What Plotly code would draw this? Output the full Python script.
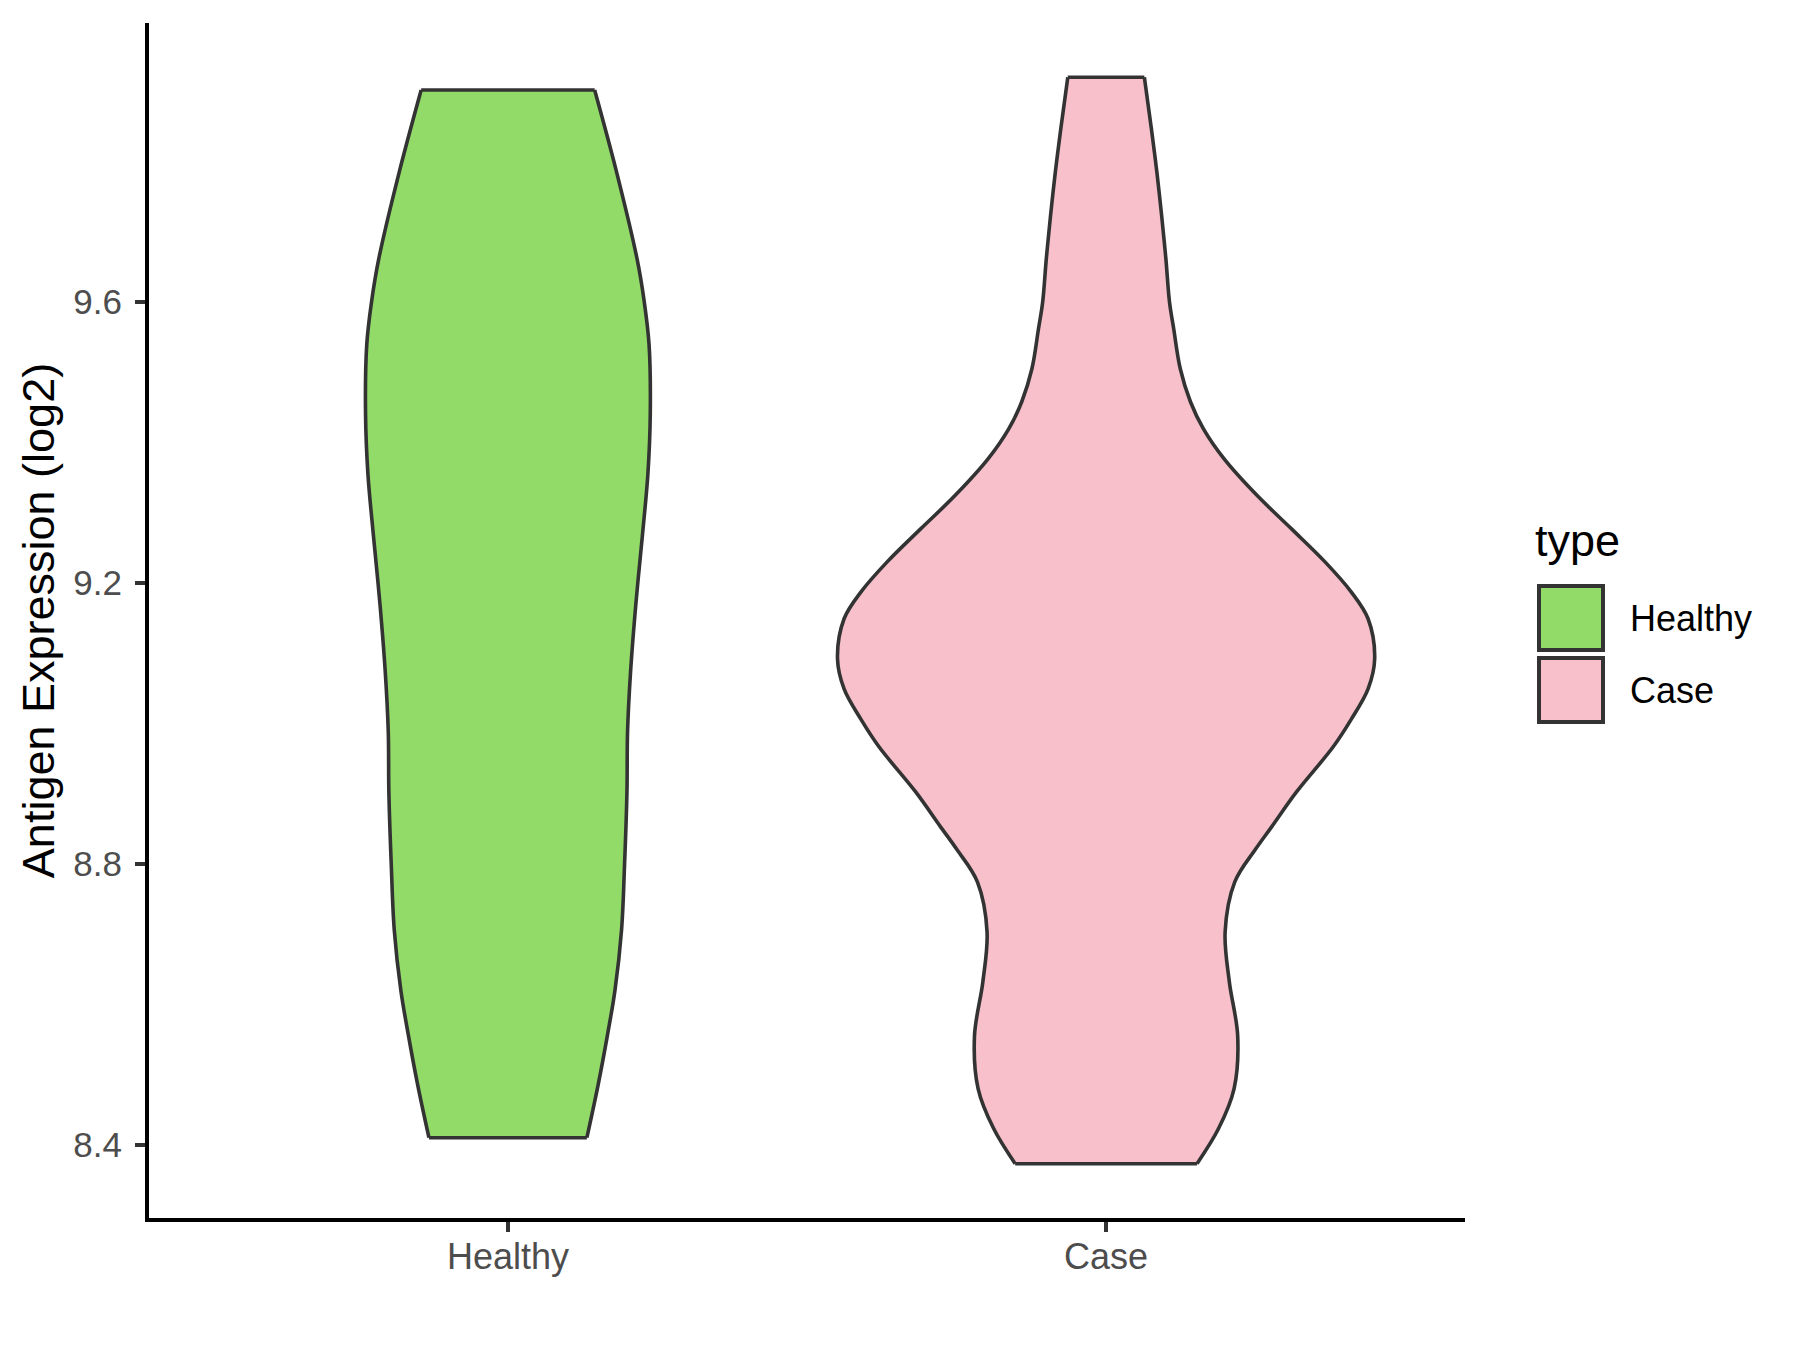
import plotly.graph_objects as go

# ---- data (violin density outlines: value, half-width in category units)
categories = ["Healthy", "Case"]
fill_colors = ["#93DB69", "#F7C0CB"]

healthy_y = [9.902, 9.784, 9.661, 9.600, 9.539, 9.441, 9.355, 9.269, 9.171, 9.073,
             8.988, 8.902, 8.799, 8.706, 8.620, 8.559, 8.486, 8.410]
healthy_hw = [0.145, 0.182, 0.216, 0.228, 0.236, 0.238, 0.234, 0.225, 0.214, 0.205,
              0.200, 0.199, 0.195, 0.190, 0.179, 0.167, 0.151, 0.132]

case_y = [9.920, 9.845, 9.784, 9.722, 9.661, 9.600, 9.562, 9.505, 9.458, 9.419,
          9.377, 9.324, 9.277, 9.230, 9.187, 9.149, 9.092, 9.049, 9.006, 8.967,
          8.902, 8.853, 8.821, 8.774, 8.703, 8.632, 8.555, 8.480, 8.423, 8.373]
case_hw = [0.064, 0.076, 0.085, 0.093, 0.100, 0.106, 0.113, 0.124, 0.141, 0.163,
           0.197, 0.253, 0.310, 0.366, 0.410, 0.438, 0.449, 0.438, 0.410, 0.380,
           0.318, 0.277, 0.250, 0.215, 0.199, 0.206, 0.220, 0.214, 0.188, 0.152]

y_ticks = [8.4, 8.8, 9.2, 9.6]
y_title = "Antigen Expression (log2)"
legend_title = "type"

series = [(healthy_y, healthy_hw), (case_y, case_hw)]

FONT = "Liberation Sans, Arial, sans-serif"
OUTLINE = "#333333"
LW = 3.6
fig = go.Figure()

for i, (ys, hws) in enumerate(series):
    c = i + 1
    left = [c - w for w in hws]
    right = [c + w for w in hws]
    fig.add_trace(go.Scatter(
        x=left, y=ys, mode="lines",
        line=dict(color=OUTLINE, width=LW, shape="spline", smoothing=1.0),
        showlegend=False, hoverinfo="skip"))
    fig.add_trace(go.Scatter(
        x=right, y=ys, mode="lines", fill="tonextx", fillcolor=fill_colors[i],
        line=dict(color=OUTLINE, width=LW, shape="spline", smoothing=1.0),
        name=categories[i], showlegend=False, hoverinfo="skip"))
    # flat top and bottom edges of the violin
    fig.add_trace(go.Scatter(
        x=[left[0], right[0], None, left[-1], right[-1]],
        y=[ys[0], ys[0], None, ys[-1], ys[-1]],
        mode="lines", line=dict(color=OUTLINE, width=LW),
        showlegend=False, hoverinfo="skip"))

all_y = healthy_y + case_y
lo, hi = min(all_y), max(all_y)
pad = (hi - lo) * 0.05

ML, MR, MT, MB = 149, 335, 23, 132
PW = 1800 - ML - MR
PH = 1350 - MT - MB

fig.update_layout(
    width=1800, height=1350,
    margin=dict(l=ML, r=MR, t=MT, b=MB),
    paper_bgcolor="white", plot_bgcolor="white",
    font=dict(family=FONT),
    showlegend=False,
)
fig.update_xaxes(
    range=[0.4, len(categories) + 0.6],
    tickvals=list(range(1, len(categories) + 1)), ticktext=categories,
    showgrid=False, zeroline=False, automargin=False,
    showline=True, linecolor="black", linewidth=4,
    ticks="outside", ticklen=10, tickwidth=4, tickcolor="#333333",
    ticklabelstandoff=-6,
    tickfont=dict(size=36, color="#4D4D4D", family=FONT),
)
fig.update_yaxes(
    range=[lo - pad, hi + pad],
    tickvals=y_ticks, ticktext=[f"{v:.1f}" for v in y_ticks],
    showgrid=False, zeroline=False, automargin=False,
    showline=True, linecolor="black", linewidth=4,
    ticks="outside", ticklen=10, tickwidth=4, tickcolor="#333333",
    ticklabelstandoff=6,
    tickfont=dict(size=35, color="#4D4D4D", family=FONT),
    title=dict(text=y_title, font=dict(size=45, color="black", family=FONT), standoff=6),
)

# legend drawn manually (ggplot-style square keys)
def px_x(x):
    return (x - ML) / PW

def px_y(y):
    return 1 - (y - MT) / PH

fig.add_annotation(xref="paper", yref="paper", x=px_x(1533), y=px_y(540),
                   text=legend_title, showarrow=False, xanchor="left", yanchor="middle",
                   font=dict(size=45, color="black", family=FONT))
key_top = 586
key_size = 64
for i, cat in enumerate(categories):
    top = key_top + i * (key_size + 8)
    fig.add_shape(type="rect", xref="paper", yref="paper",
                  x0=px_x(1539), x1=px_x(1539 + key_size),
                  y0=px_y(top + key_size), y1=px_y(top),
                  fillcolor=fill_colors[i], line=dict(color="#333333", width=4))
    fig.add_annotation(xref="paper", yref="paper", x=px_x(1628), y=px_y(top + key_size / 2),
                       text=cat, showarrow=False, xanchor="left", yanchor="middle",
                       font=dict(size=36, color="black", family=FONT))

fig.write_html("out.html", config={"displayModeBar": False},
               post_script="document.body.style.margin='0px';")
